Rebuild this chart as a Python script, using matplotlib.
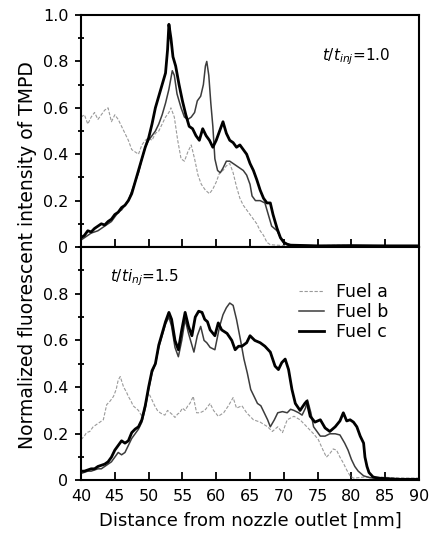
# Perfis de fluorescencia normalizada (TMPD) - fuels a, b, c
import numpy as np
import matplotlib
matplotlib.use('Agg')
import matplotlib.pyplot as plt
from matplotlib.ticker import MultipleLocator, FuncFormatter

plt.rcParams['font.family'] = ['DejaVu Sans']
plt.rcParams['mathtext.fontset'] = 'dejavusans'

# ---- t/tinj = 1.0 (painel de cima) ----
xa1 = [40.0, 40.5, 41.0, 41.5, 42.0, 42.5, 43.0, 43.5, 44.0, 44.5, 45.0, 45.5, 46.0, 46.5,
       47.0, 47.5, 48.0, 48.5, 49.0, 49.5, 50.0, 50.5, 51.0, 51.5, 52.0, 52.5, 53.0, 53.3,
       53.8, 54.3, 54.8, 55.3, 55.8, 56.3, 56.8, 57.3, 57.8, 58.4, 59.0, 59.5, 60.0, 60.5,
       61.0, 61.5, 62.0, 62.5, 63.0, 63.5, 64.0, 64.5, 65.0, 65.5, 66.0, 66.5, 67.0, 67.5,
       68.0, 70.0, 74.0, 78.0, 82.0, 86.0, 90.0]
ya1 = [0.56, 0.57, 0.53, 0.56, 0.58, 0.55, 0.57, 0.59, 0.60, 0.54, 0.57, 0.55, 0.52, 0.49,
       0.46, 0.42, 0.41, 0.40, 0.44, 0.46, 0.47, 0.46, 0.49, 0.50, 0.53, 0.56, 0.58, 0.60,
       0.56, 0.46, 0.38, 0.37, 0.41, 0.44, 0.38, 0.31, 0.27, 0.245, 0.23, 0.25, 0.28, 0.32,
       0.33, 0.35, 0.36, 0.32, 0.26, 0.21, 0.18, 0.16, 0.14, 0.12, 0.10, 0.07, 0.05, 0.02,
       0.01, 0.006, 0.005, 0.008, 0.005, 0.006, 0.005]

xb1 = [40.0, 40.5, 41.0, 41.5, 42.0, 42.5, 43.0, 43.5, 44.0, 44.5, 45.0, 45.5, 46.0, 46.5,
       47.0, 47.5, 48.0, 48.5, 49.0, 49.5, 50.0, 50.5, 51.0, 51.5, 52.0, 52.5, 53.0, 53.5,
       53.8, 54.2, 54.8, 55.3, 55.8, 56.3, 56.8, 57.2, 57.7, 58.1, 58.4, 58.6, 58.9, 59.2,
       59.5, 59.8, 60.2, 60.6, 61.0, 61.5, 62.0, 62.5, 63.0, 63.5, 64.0, 64.5, 65.0, 65.3,
       65.8, 66.5, 67.2, 67.7, 68.2, 69.0, 69.5, 70.0, 70.5, 71.0, 75.0, 80.0, 85.0, 90.0]
yb1 = [0.03, 0.04, 0.05, 0.06, 0.065, 0.07, 0.08, 0.09, 0.10, 0.11, 0.13, 0.15, 0.16, 0.18,
       0.20, 0.24, 0.28, 0.32, 0.38, 0.43, 0.46, 0.48, 0.50, 0.53, 0.57, 0.62, 0.68, 0.76,
       0.74, 0.66, 0.60, 0.56, 0.55, 0.56, 0.58, 0.63, 0.65, 0.70, 0.78, 0.80, 0.74, 0.62,
       0.52, 0.38, 0.33, 0.32, 0.34, 0.37, 0.37, 0.36, 0.35, 0.34, 0.33, 0.31, 0.27, 0.22,
       0.20, 0.20, 0.19, 0.14, 0.09, 0.07, 0.04, 0.02, 0.012, 0.008, 0.005, 0.006, 0.005, 0.005]

xc1 = [40.0, 40.5, 41.0, 41.5, 42.0, 42.5, 43.0, 43.5, 44.0, 44.5, 45.0, 45.5, 46.0, 46.5,
       47.0, 47.5, 48.0, 48.5, 49.0, 49.5, 50.0, 50.5, 51.0, 51.5, 52.0, 52.5, 52.8, 53.0,
       53.3, 53.6, 54.0, 54.5, 55.0, 55.5, 56.0, 56.5, 57.0, 57.5, 58.0, 58.5, 59.0, 59.5,
       60.0, 60.5, 61.0, 61.5, 62.0, 62.5, 63.0, 63.5, 64.0, 64.5, 65.0, 65.5, 66.0, 66.5,
       67.0, 67.5, 68.0, 68.4, 69.0, 69.5, 70.0, 70.5, 71.0, 75.0, 80.0, 85.0, 90.0]
yc1 = [0.04, 0.05, 0.07, 0.065, 0.08, 0.09, 0.10, 0.095, 0.11, 0.12, 0.14, 0.15, 0.17, 0.18,
       0.20, 0.23, 0.28, 0.33, 0.38, 0.43, 0.47, 0.53, 0.60, 0.65, 0.70, 0.75, 0.85, 0.96,
       0.90, 0.82, 0.78, 0.70, 0.63, 0.57, 0.52, 0.51, 0.48, 0.46, 0.51, 0.48, 0.46, 0.43,
       0.46, 0.50, 0.54, 0.49, 0.46, 0.45, 0.43, 0.44, 0.42, 0.40, 0.36, 0.33, 0.29, 0.245,
       0.21, 0.19, 0.19, 0.14, 0.08, 0.04, 0.02, 0.012, 0.008, 0.005, 0.006, 0.005, 0.005]

# ---- t/tinj = 1.5 (painel de baixo) ----
xa2 = [40.0, 40.5, 40.8, 41.3, 41.8, 42.3, 42.8, 43.3, 43.8, 44.3, 44.8, 45.2, 45.5, 45.8,
       46.3, 46.7, 47.0, 47.4, 47.7, 48.1, 48.5, 49.0, 49.5, 49.8, 50.0, 50.5, 50.9, 51.3,
       51.7, 52.0, 52.4, 52.8, 53.2, 53.6, 53.9, 54.3, 54.6, 55.0, 55.4, 55.8, 56.1, 56.6,
       57.1, 57.6, 58.3, 59.1, 59.6, 60.3, 61.1, 61.8, 62.5, 63.0, 63.8, 64.5, 65.5, 66.5,
       67.6, 68.3, 69.1, 69.8, 70.5, 71.5, 72.4, 73.4, 74.4, 75.1, 75.8, 76.3, 76.8, 77.3,
       77.8, 78.3, 78.8, 79.3, 79.8, 80.3, 82.0, 84.0, 86.0, 88.0, 90.0]
ya2 = [0.175, 0.19, 0.205, 0.21, 0.23, 0.24, 0.25, 0.26, 0.325, 0.34, 0.36, 0.39, 0.43, 0.445,
       0.40, 0.38, 0.36, 0.34, 0.32, 0.31, 0.30, 0.275, 0.33, 0.36, 0.375, 0.345, 0.32, 0.30,
       0.29, 0.285, 0.28, 0.30, 0.29, 0.28, 0.27, 0.285, 0.29, 0.31, 0.30, 0.32, 0.33, 0.36,
       0.29, 0.29, 0.30, 0.33, 0.30, 0.275, 0.29, 0.32, 0.355, 0.31, 0.32, 0.29, 0.26, 0.25,
       0.23, 0.21, 0.23, 0.205, 0.26, 0.275, 0.26, 0.23, 0.20, 0.175, 0.13, 0.10, 0.115, 0.135,
       0.13, 0.10, 0.075, 0.045, 0.02, 0.01, 0.015, 0.015, 0.012, 0.01, 0.01]

xb2 = [40.0, 40.5, 41.0, 41.5, 42.0, 42.5, 43.0, 43.5, 44.0, 44.5, 45.0, 45.5, 46.0, 46.5,
       47.0, 47.5, 48.0, 48.5, 49.0, 49.5, 50.0, 50.5, 51.0, 51.5, 52.0, 52.5, 53.0, 53.4,
       53.9, 54.4, 54.9, 55.4, 55.9, 56.4, 56.7, 57.2, 57.7, 58.2, 58.6, 59.1, 59.8, 60.5,
       61.0, 61.5, 62.0, 62.5, 63.0, 63.6, 64.1, 64.6, 65.1, 65.6, 66.1, 66.6, 67.1, 67.6,
       68.0, 68.6, 69.1, 69.8, 70.5, 71.0, 71.5, 72.2, 72.7, 73.2, 73.5, 74.0, 74.4, 75.4,
       76.1, 76.8, 77.6, 78.3, 79.0, 79.5, 80.0, 80.5, 81.0, 81.8, 82.7, 84.0, 87.0, 90.0]
yb2 = [0.03, 0.035, 0.04, 0.04, 0.045, 0.05, 0.05, 0.06, 0.07, 0.08, 0.10, 0.12, 0.11, 0.12,
       0.15, 0.18, 0.20, 0.22, 0.25, 0.31, 0.39, 0.46, 0.50, 0.57, 0.62, 0.67, 0.70, 0.66,
       0.57, 0.53, 0.60, 0.69, 0.63, 0.58, 0.55, 0.62, 0.66, 0.60, 0.59, 0.57, 0.56, 0.66,
       0.71, 0.74, 0.76, 0.75, 0.69, 0.60, 0.52, 0.46, 0.39, 0.36, 0.33, 0.32, 0.29, 0.26,
       0.23, 0.26, 0.29, 0.295, 0.29, 0.305, 0.30, 0.29, 0.28, 0.31, 0.345, 0.29, 0.23, 0.19,
       0.19, 0.20, 0.20, 0.195, 0.16, 0.13, 0.09, 0.06, 0.04, 0.02, 0.012, 0.008, 0.005, 0.005]

xc2 = [40.0, 40.5, 41.0, 41.5, 42.0, 42.5, 43.0, 43.5, 44.0, 44.5, 45.0, 45.5, 46.0, 46.5,
       47.0, 47.5, 48.0, 48.5, 49.0, 49.5, 50.0, 50.5, 51.0, 51.5, 52.0, 52.5, 53.0, 53.4,
       53.9, 54.4, 54.9, 55.4, 55.9, 56.4, 56.9, 57.4, 57.9, 58.3, 58.7, 59.1, 59.8, 60.3,
       60.8, 61.6, 62.3, 62.8, 63.3, 63.8, 64.5, 65.0, 65.7, 66.5, 67.2, 68.0, 68.7, 69.2,
       69.7, 70.2, 70.7, 71.2, 71.7, 72.4, 73.1, 73.4, 73.9, 74.6, 75.4, 76.1, 76.8, 77.6,
       78.3, 78.8, 79.3, 79.8, 80.3, 80.8, 81.3, 81.8, 82.0, 82.3, 82.6, 83.2, 84.0, 87.0, 90.0]
yc2 = [0.04, 0.04, 0.045, 0.05, 0.05, 0.06, 0.065, 0.07, 0.08, 0.10, 0.13, 0.15, 0.17, 0.16,
       0.17, 0.205, 0.22, 0.23, 0.26, 0.32, 0.40, 0.47, 0.50, 0.58, 0.63, 0.68, 0.72, 0.69,
       0.60, 0.56, 0.645, 0.72, 0.66, 0.62, 0.70, 0.725, 0.72, 0.69, 0.68, 0.645, 0.62, 0.675,
       0.645, 0.63, 0.60, 0.56, 0.575, 0.575, 0.59, 0.62, 0.60, 0.59, 0.575, 0.55, 0.49, 0.475,
       0.505, 0.52, 0.475, 0.39, 0.33, 0.30, 0.33, 0.34, 0.275, 0.25, 0.26, 0.225, 0.21, 0.23,
       0.255, 0.29, 0.255, 0.26, 0.25, 0.23, 0.19, 0.16, 0.10, 0.06, 0.034, 0.015, 0.01, 0.005, 0.005]

labels = ['Fuel a', 'Fuel b', 'Fuel c']

fig = plt.figure(figsize=(4.37, 5.35), dpi=100)
ax1 = fig.add_axes([0.1854, 0.5383, 0.7735, 0.4336])
ax2 = fig.add_axes([0.1854, 0.1019, 0.7735, 0.4364], sharex=ax1)

def yfmt(v, pos):
    if abs(v) < 1e-9:
        return '0'
    return '%.1f' % v

for ax, xs, ys in [(ax1, [xa1, xb1, xc1], [ya1, yb1, yc1]),
                   (ax2, [xa2, xb2, xc2], [ya2, yb2, yc2])]:
    ax.plot(xs[0], ys[0], color='#9a9a9a', lw=0.8, ls=(0, (3, 1.5)), label=labels[0])
    ax.plot(xs[1], ys[1], color='#3c3c3c', lw=1.1, label=labels[1])
    ax.plot(xs[2], ys[2], color='black', lw=2.0, label=labels[2])
    ax.set_xlim(40, 90)
    ax.set_ylim(0, 1.0)
    ax.xaxis.set_major_locator(MultipleLocator(5))
    ax.yaxis.set_major_locator(MultipleLocator(0.2))
    ax.yaxis.set_minor_locator(MultipleLocator(0.1))
    ax.yaxis.set_major_formatter(FuncFormatter(yfmt))
    ax.tick_params(axis='x', direction='in', length=6, width=1.3, labelsize=11.5, pad=6)
    ax.tick_params(axis='y', which='major', direction='out', length=4, width=1.3, labelsize=11.5, pad=5)
    ax.tick_params(axis='y', which='minor', direction='inout', length=5, width=1.3)
    for s in ax.spines.values():
        s.set_linewidth(1.5)

plt.setp(ax1.get_xticklabels(), visible=False)
ax2.set_yticks([0, 0.2, 0.4, 0.6, 0.8])

ax1.text(75.6, 0.82, r'$t/t_{inj}$=1.0', fontsize=11, va='center')
ax2.text(44.3, 0.87, r'$t/ti_{nj}$=1.5', fontsize=11, va='center')

ax2.legend(loc='upper left', bbox_to_anchor=(0.645, 0.845), frameon=False, fontsize=12.5,
           handlelength=1.45, handletextpad=0.65, labelspacing=0.1, borderpad=0, borderaxespad=0)

ax2.set_xlabel('Distance from nozzle outlet [mm]', fontsize=13, labelpad=6)
fig.text(0.063, 0.523, 'Normalized fluorescent intensity of TMPD', rotation=90,
         fontsize=13.5, ha='center', va='center')

plt.savefig('out.png', dpi=100)
